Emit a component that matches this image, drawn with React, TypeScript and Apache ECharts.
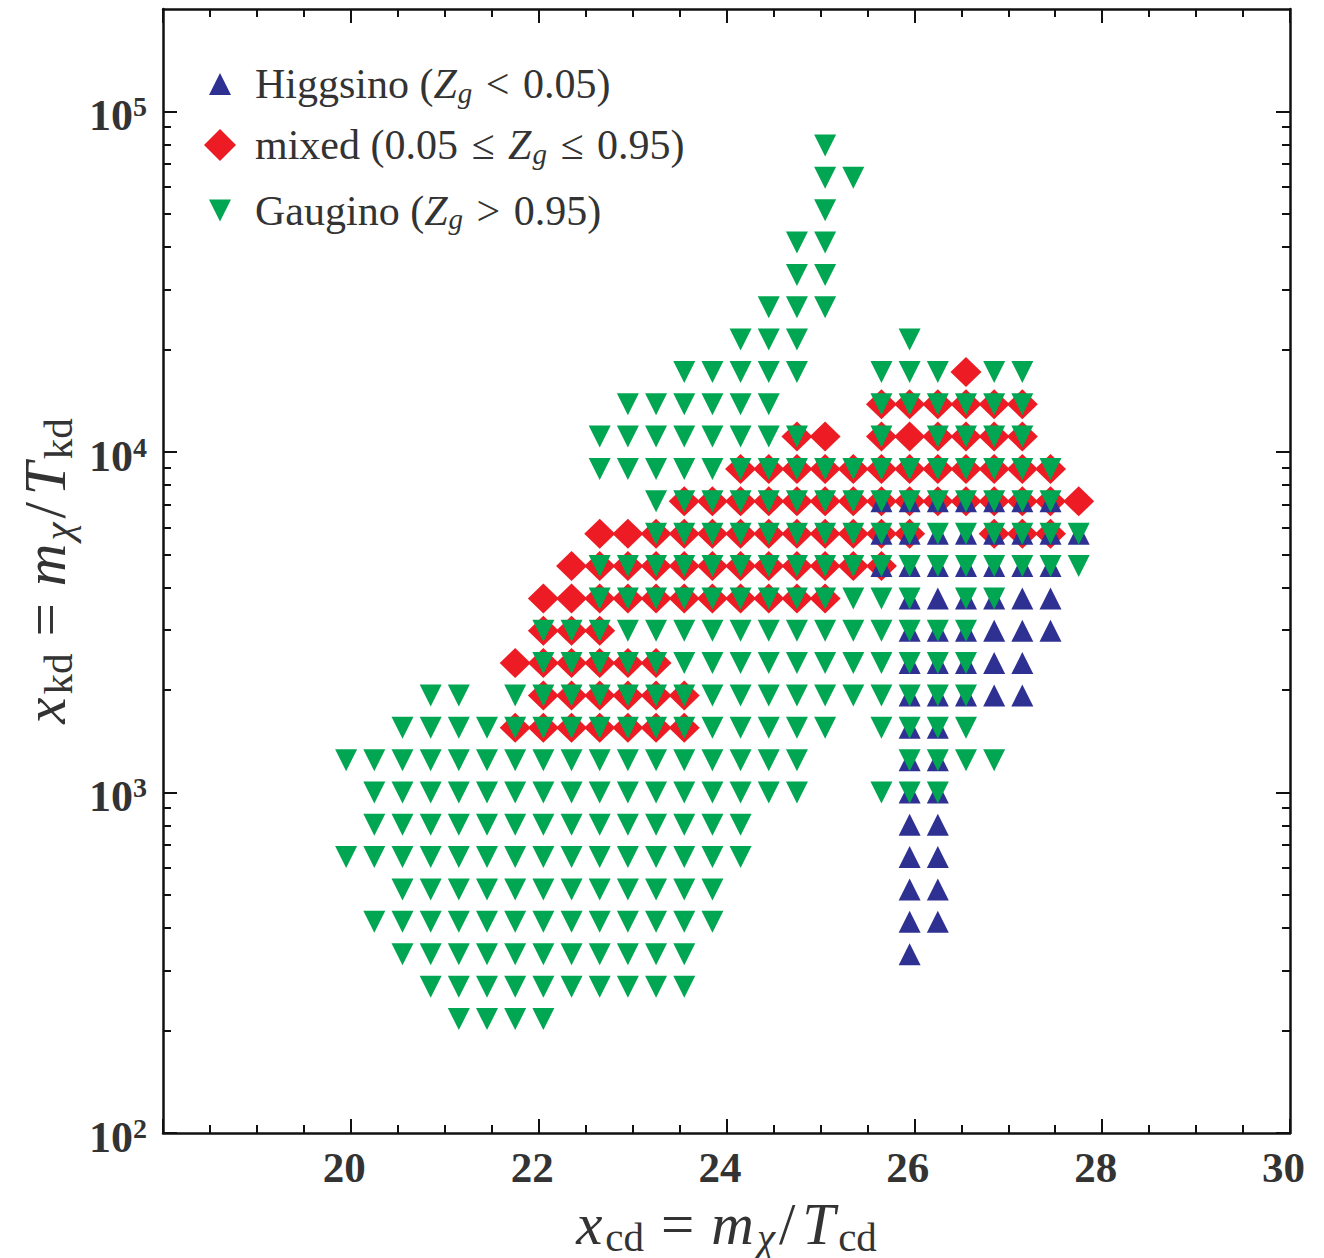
import React, { useEffect, useRef } from 'react';
import * as echarts from 'echarts';

const FONT = "'Liberation Serif', 'DejaVu Serif', serif";
const TEXT = '#333333';
const INK = '#111111';
const BLUE = '#2E3192';
const RED = '#ED1C24';
const GREEN = '#00A651';

// grid columns (x_cd) and rows (x_kd)
const xCols = [19.95, 20.25, 20.55, 20.85, 21.15, 21.45, 21.75, 22.05, 22.35, 22.65, 22.95, 23.25, 23.55, 23.85,
  24.15, 24.45, 24.75, 25.05, 25.35, 25.65, 25.95, 26.25, 26.55, 26.85, 27.15, 27.45, 27.75];
const yRows = [216, 269, 335, 417, 519, 646, 804, 1000, 1244, 1549, 1928, 2399, 2986, 3716, 4625, 5756, 7163,
  8915, 11100, 13810, 17180, 21390, 26620, 33120, 41220, 51300, 63850, 79460];

const xMin = 18;
const xMax = 30;
const xStep = 2;
const yMin = 100;
const yMax = 200000;
const yMajorTicks = [100, 1000, 10000, 100000];
const yMinorTicks = [200, 300, 400, 500, 600, 700, 800, 900, 2000, 3000, 4000, 5000, 6000, 7000, 8000, 9000,
  20000, 30000, 40000, 50000, 60000, 70000, 80000, 90000];

// [row index, column indices]
const higgsinoCells: Array<[number, number[]]> = [
  [2, [20]],
  [3, [20, 21]],
  [4, [20, 21]],
  [5, [20, 21]],
  [6, [20, 21]],
  [7, [20, 21]],
  [8, [20, 21]],
  [9, [20, 21]],
  [10, [20, 21, 22, 23, 24]],
  [11, [20, 21, 22, 23, 24]],
  [12, [20, 21, 22, 23, 24, 25]],
  [13, [20, 21, 22, 23, 24, 25]],
  [14, [19, 20, 21, 22, 23, 24, 25]],
  [15, [19, 20, 21, 22, 23, 24, 25, 26]],
  [16, [19, 20, 21, 22, 23, 24, 25]],
];

const mixedCells: Array<[number, number[]]> = [
  [9, [6, 7, 8, 9, 10, 11, 12]],
  [10, [7, 8, 9, 10, 11, 12]],
  [11, [6, 7, 8, 9, 10, 11]],
  [12, [7, 8, 9]],
  [13, [7, 8, 9, 10, 11, 12, 13, 14, 15, 16, 17]],
  [14, [8, 9, 10, 11, 12, 13, 14, 15, 16, 17, 18, 19]],
  [15, [9, 10, 11, 12, 13, 14, 15, 16, 17, 18, 19, 20, 23, 24, 25]],
  [16, [12, 13, 14, 15, 16, 17, 18, 19, 20, 21, 22, 23, 24, 25, 26]],
  [17, [14, 15, 16, 17, 18, 19, 20, 21, 22, 23, 24, 25]],
  [18, [16, 17, 19, 20, 21, 22, 23, 24]],
  [19, [19, 20, 21, 22, 23, 24]],
  [20, [22]],
];

const gauginoCells: Array<[number, number[]]> = [
  [0, [4, 5, 6, 7]],
  [1, [3, 4, 5, 6, 7, 8, 9, 10, 11, 12]],
  [2, [2, 3, 4, 5, 6, 7, 8, 9, 10, 11, 12]],
  [3, [1, 2, 3, 4, 5, 6, 7, 8, 9, 10, 11, 12, 13]],
  [4, [2, 3, 4, 5, 6, 7, 8, 9, 10, 11, 12, 13]],
  [5, [0, 1, 2, 3, 4, 5, 6, 7, 8, 9, 10, 11, 12, 13, 14]],
  [6, [1, 2, 3, 4, 5, 6, 7, 8, 9, 10, 11, 12, 13, 14]],
  [7, [1, 2, 3, 4, 5, 6, 7, 8, 9, 10, 11, 12, 13, 14, 15, 16, 19, 20, 21]],
  [8, [0, 1, 2, 3, 4, 5, 6, 7, 8, 9, 10, 11, 12, 13, 14, 15, 16, 20, 21, 22, 23]],
  [9, [2, 3, 4, 5, 6, 7, 8, 9, 10, 11, 12, 13, 14, 15, 16, 17, 19, 20, 21, 22]],
  [10, [3, 4, 6, 7, 8, 9, 10, 11, 12, 13, 14, 15, 16, 17, 18, 19, 20, 21, 22]],
  [11, [7, 8, 9, 10, 11, 12, 13, 14, 15, 16, 17, 18, 19, 20, 21, 22]],
  [12, [7, 8, 9, 10, 11, 12, 13, 14, 15, 16, 17, 18, 19, 20, 21, 22]],
  [13, [9, 10, 11, 12, 13, 14, 15, 16, 17, 18, 19, 20, 22, 23]],
  [14, [9, 10, 11, 12, 13, 14, 15, 16, 17, 18, 19, 20, 21, 22, 23, 24, 25, 26]],
  [15, [11, 12, 13, 14, 15, 16, 17, 18, 19, 20, 21, 22, 23, 24, 25, 26]],
  [16, [11, 12, 13, 14, 15, 16, 17, 18, 19, 20, 21, 22, 23, 24, 25]],
  [17, [9, 10, 11, 12, 13, 14, 15, 16, 17, 18, 19, 20, 21, 22, 23, 24, 25]],
  [18, [9, 10, 11, 12, 13, 14, 15, 16, 19, 21, 22, 23, 24]],
  [19, [10, 11, 12, 13, 14, 15, 19, 20, 21, 22, 23, 24]],
  [20, [12, 13, 14, 15, 16, 19, 20, 21, 23, 24]],
  [21, [14, 15, 16, 20]],
  [22, [15, 16, 17]],
  [23, [16, 17]],
  [24, [16, 17]],
  [25, [17]],
  [26, [17, 18]],
  [27, [17]],
];

function toPoints(cells: Array<[number, number[]]>): number[][] {
  const out: number[][] = [];
  for (const [r, cols] of cells) {
    for (const c of cols) out.push([xCols[c], yRows[r]]);
  }
  return out;
}

const TFS = 59;
const TLH = 66;
const titleRich = {
  it: { fontFamily: FONT, fontStyle: 'italic', fontSize: TFS, lineHeight: TLH, color: TEXT, padding: [0, 3, 0, 0] },
  rm: { fontFamily: FONT, fontSize: TFS, lineHeight: TLH, color: TEXT },
  op: { fontFamily: FONT, fontSize: TFS, lineHeight: TLH, color: TEXT, padding: [0, 17, 0, 17] },
  sl: { fontFamily: FONT, fontSize: TFS, lineHeight: TLH, color: TEXT, padding: [0, 7, 0, 4] },
  sub: { fontFamily: FONT, fontSize: 41, lineHeight: 32, verticalAlign: 'bottom', color: TEXT },
  subi: { fontFamily: FONT, fontStyle: 'italic', fontSize: 41, lineHeight: 32, verticalAlign: 'bottom', color: TEXT },
};

const LFS = 42;
const LLH = 46;
const legendRich = {
  rm: { fontFamily: FONT, fontSize: LFS, lineHeight: LLH, color: TEXT },
  op: { fontFamily: FONT, fontSize: LFS, lineHeight: LLH, color: TEXT, padding: [0, 3, 0, 3] },
  it: { fontFamily: FONT, fontStyle: 'italic', fontSize: LFS, lineHeight: LLH, color: TEXT, padding: [0, 1, 0, 0] },
  sub: { fontFamily: FONT, fontStyle: 'italic', fontSize: 29, lineHeight: 26, verticalAlign: 'bottom', color: TEXT },
};

const legendRows = [
  { name: 'Higgsino', label: '{rm|Higgsino (}{it|Z}{sub|g}{op| < }{rm|0.05)}', left: 209, top: 63, size: 22, pad: 19, icon: undefined },
  { name: 'mixed', label: '{rm|mixed (0.05}{op| ≤ }{it|Z}{sub|g}{op| ≤ }{rm|0.95)}', left: 204, top: 124, size: 32, pad: 14, icon: undefined },
  { name: 'Gaugino', label: '{rm|Gaugino (}{it|Z}{sub|g}{op| > }{rm|0.95)}', left: 209, top: 189.5, size: 22, pad: 19, icon: 'path://M0,0 L2,0 L1,2 Z' },
];

const frameLine = { color: INK, width: 2.5 };
const tickLine = { color: INK, width: 2 };

export default function App() {
  const ref = useRef<HTMLDivElement>(null);

  useEffect(() => {
    if (!ref.current) return;
    const chart = echarts.init(ref.current, undefined, { renderer: 'svg' });

    const xBase: any = {
      type: 'value',
      min: xMin,
      max: xMax,
      interval: xStep,
      splitLine: { show: false },
      minorSplitLine: { show: false },
      axisLine: { show: true, onZero: false, lineStyle: frameLine },
      axisTick: { show: true, inside: true, length: 14, lineStyle: tickLine },
      minorTick: { show: true, splitNumber: 4, length: 8, lineStyle: tickLine },
    };

    const yBase: any = {
      type: 'log',
      logBase: 10,
      min: yMin,
      max: yMax,
      splitLine: { show: false },
      minorSplitLine: { show: false },
    };

    const supFmt = (v: number) => {
      const e = Math.log10(v);
      const n = Math.round(e);
      if (Math.abs(e - n) > 1e-6) return '';
      return `{b|10}{s|${n}}`;
    };

    const option: any = {
      animation: false,
      backgroundColor: '#ffffff',
      grid: { left: 163, right: 34, top: 9, bottom: 125, containLabel: false, outerBoundsMode: 'none' },
      legend: legendRows.map((row) => {
        const item: any = { name: row.name };
        if (row.icon) item.icon = row.icon;
        return {
          data: [item],
          left: row.left,
          top: row.top,
          orient: 'vertical',
          padding: 0,
          itemWidth: row.size,
          itemHeight: row.size,
          selectedMode: false,
          formatter: () => row.label,
          textStyle: { fontFamily: FONT, fontSize: LFS, color: TEXT, padding: [0, 0, 0, row.pad], rich: legendRich },
        };
      }),
      xAxis: [
        {
          ...xBase,
          position: 'bottom',
          axisLabel: {
            show: true,
            margin: 13,
            fontSize: 43,
            fontWeight: 'bold',
            fontFamily: FONT,
            color: TEXT,
            padding: [0, 13, 0, 0],
            formatter: (v: number) => (v === xMin ? '' : String(v)),
          },
          name: '{it|x}{sub|cd}{op|=}{it|m}{subi|χ}{sl|/}{it|T}{sub|cd}',
          nameLocation: 'middle',
          nameGap: 58,
          nameTextStyle: { rich: titleRich },
        },
        { ...xBase, position: 'top', axisLabel: { show: false } },
      ],
      yAxis: [
        {
          ...yBase,
          position: 'left',
          axisLine: { show: true, onZero: false, lineStyle: frameLine },
          axisTick: { show: true, inside: true, length: 14, lineStyle: tickLine, customValues: yMajorTicks },
          axisLabel: {
            show: true,
            margin: 16,
            customValues: yMajorTicks,
            padding: [8, 0, 0, 0],
            formatter: supFmt,
            rich: {
              b: { fontFamily: FONT, fontWeight: 'bold', fontSize: 44, lineHeight: 46, color: TEXT },
              s: { fontFamily: FONT, fontWeight: 'bold', fontSize: 28, lineHeight: 24, verticalAlign: 'top', color: TEXT },
            },
          },
          name: '{it|x}{sub|kd}{op|=}{it|m}{subi|χ}{sl|/}{it|T}{sub|kd}',
          nameLocation: 'middle',
          nameRotate: 90,
          nameGap: 74,
          nameTextStyle: { rich: titleRich },
        },
        {
          ...yBase,
          position: 'left',
          axisLine: { show: false },
          axisTick: { show: true, inside: true, length: 8, lineStyle: tickLine, customValues: yMinorTicks },
          axisLabel: { show: false },
        },
        {
          ...yBase,
          position: 'right',
          axisLine: { show: true, onZero: false, lineStyle: frameLine },
          axisTick: { show: true, inside: true, length: 14, lineStyle: tickLine, customValues: yMajorTicks },
          axisLabel: { show: false },
        },
        {
          ...yBase,
          position: 'right',
          axisLine: { show: false },
          axisTick: { show: true, inside: true, length: 8, lineStyle: tickLine, customValues: yMinorTicks },
          axisLabel: { show: false },
        },
      ],
      series: [
        {
          type: 'scatter',
          name: 'mixed',
          data: toPoints(mixedCells),
          symbol: 'diamond',
          symbolSize: [31, 30],
          itemStyle: { color: RED, opacity: 1 },
          silent: true,
        },
        {
          type: 'scatter',
          name: 'Higgsino',
          data: toPoints(higgsinoCells),
          symbol: 'triangle',
          symbolSize: [22, 22],
          itemStyle: { color: BLUE, opacity: 1 },
          silent: true,
        },
        {
          type: 'scatter',
          name: 'Gaugino',
          data: toPoints(gauginoCells),
          symbol: 'triangle',
          symbolRotate: 180,
          symbolSize: [22, 22],
          itemStyle: { color: GREEN, opacity: 1 },
          silent: true,
        },
      ],
    };

    chart.setOption(option);
    return () => chart.dispose();
  }, []);

  return (
    <div
      ref={ref}
      style={{ position: 'absolute', left: 0, top: 0, width: 1324, height: 1258, background: '#ffffff' }}
    />
  );
}
